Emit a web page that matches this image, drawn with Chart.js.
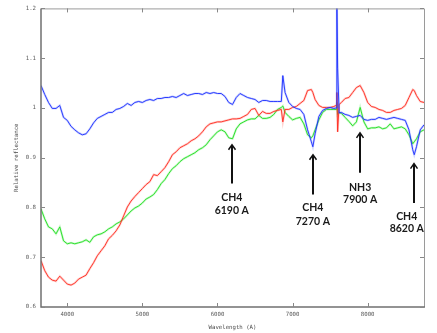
<!DOCTYPE html>
<html>
<head>
<meta charset="utf-8">
<script src="https://cdn.jsdelivr.net/npm/chart.js@4.4.0/dist/chart.umd.min.js"></script>
<style>
  html, body { margin: 0; padding: 0; background: #fff; }
  #wrap { width: 437px; height: 333px; }
</style>
</head>
<body>
<div id="wrap"><canvas id="spectrum" width="437" height="333"></canvas></div>
<script>
// ==========================================
// DATA
// ==========================================

// wavelength grid in Angstrom
const wavelengths = [
  3650, 3700, 3750, 3800, 3850, 3900, 3950, 4000, 4050, 4100,
  4150, 4200, 4250, 4300, 4350, 4400, 4450, 4500, 4550, 4600,
  4650, 4700, 4750, 4800, 4850, 4900, 4950, 5000, 5050, 5100,
  5150, 5200, 5250, 5300, 5350, 5400, 5450, 5500, 5550, 5600,
  5650, 5700, 5750, 5800, 5850, 5900, 5950, 6000, 6050, 6100,
  6150, 6200, 6250, 6300, 6350, 6400, 6450, 6500, 6550, 6600,
  6650, 6700, 6750, 6800, 6850, 6870, 6900, 6950, 7000, 7050,
  7100, 7150, 7200, 7250, 7270, 7300, 7350, 7400, 7450, 7500,
  7550, 7580, 7590, 7600, 7620, 7650, 7700, 7750, 7800, 7850,
  7900, 7950, 8000, 8050, 8100, 8150, 8200, 8250, 8300, 8350,
  8400, 8450, 8500, 8550, 8600, 8620, 8650, 8700, 8750
];

const blueReflectance = [
  1.045, 1.027, 1.011, 0.999, 0.999, 1.005, 0.981, 0.975, 0.963, 0.956,
  0.950, 0.946, 0.948, 0.958, 0.970, 0.979, 0.983, 0.987, 0.991, 0.991,
  0.997, 0.999, 1.003, 1.009, 1.005, 1.011, 1.013, 1.011, 1.015, 1.017,
  1.015, 1.019, 1.019, 1.021, 1.021, 1.023, 1.021, 1.025, 1.029, 1.025,
  1.027, 1.029, 1.029, 1.027, 1.031, 1.029, 1.031, 1.029, 1.029, 1.023,
  1.011, 1.007, 1.021, 1.029, 1.025, 1.021, 1.019, 1.017, 1.011, 1.015,
  1.015, 1.013, 1.013, 1.013, 1.013, 1.065, 1.031, 1.011, 1.003, 0.999,
  0.997, 0.987, 0.956, 0.932, 0.922, 0.948, 0.983, 0.995, 0.999, 1.001,
  0.999, 1.000, 1.210, 1.080, 0.990, 0.991, 0.987, 0.985, 0.981, 0.983,
  0.985, 0.977, 0.975, 0.977, 0.977, 0.981, 0.979, 0.977, 0.979, 0.981,
  0.979, 0.977, 0.975, 0.956, 0.916, 0.906, 0.922, 0.956, 0.966
];

const redReflectance = [
  0.693, 0.673, 0.660, 0.654, 0.652, 0.662, 0.654, 0.646, 0.644, 0.648,
  0.656, 0.660, 0.664, 0.677, 0.689, 0.703, 0.713, 0.723, 0.737, 0.744,
  0.753, 0.765, 0.783, 0.801, 0.813, 0.822, 0.830, 0.838, 0.846, 0.852,
  0.866, 0.864, 0.872, 0.880, 0.892, 0.906, 0.912, 0.920, 0.924, 0.928,
  0.934, 0.938, 0.944, 0.952, 0.962, 0.968, 0.970, 0.972, 0.972, 0.974,
  0.976, 0.978, 0.978, 0.979, 0.983, 0.987, 0.997, 0.999, 0.985, 0.993,
  0.989, 0.989, 0.993, 0.995, 0.997, 0.972, 0.997, 0.997, 1.001, 1.003,
  1.009, 1.015, 1.035, 1.037, 1.031, 1.017, 1.005, 1.001, 1.001, 1.001,
  1.003, 1.005, 1.031, 0.952, 1.007, 1.011, 1.019, 1.021, 1.031, 1.041,
  1.045, 1.031, 1.011, 1.003, 1.001, 0.997, 0.995, 0.991, 0.991, 0.995,
  0.997, 0.999, 1.005, 1.021, 1.037, 1.035, 1.025, 1.013, 1.011
];

const greenReflectance = [
  0.797, 0.777, 0.761, 0.757, 0.747, 0.761, 0.733, 0.727, 0.729, 0.727,
  0.729, 0.731, 0.735, 0.730, 0.741, 0.745, 0.747, 0.751, 0.757, 0.761,
  0.767, 0.771, 0.777, 0.785, 0.793, 0.799, 0.803, 0.809, 0.817, 0.821,
  0.826, 0.836, 0.848, 0.856, 0.868, 0.878, 0.884, 0.892, 0.898, 0.902,
  0.906, 0.910, 0.916, 0.920, 0.926, 0.936, 0.944, 0.952, 0.956, 0.952,
  0.940, 0.938, 0.958, 0.968, 0.972, 0.976, 0.978, 0.978, 0.985, 0.979,
  0.979, 0.981, 0.987, 0.997, 1.001, 1.004, 0.991, 0.983, 0.976, 0.979,
  0.981, 0.968, 0.946, 0.940, 0.944, 0.956, 0.976, 0.991, 0.997, 0.997,
  0.997, 0.997, 1.011, 0.987, 0.991, 0.989, 0.981, 0.973, 0.964, 0.972,
  1.001, 0.972, 0.958, 0.960, 0.960, 0.962, 0.958, 0.960, 0.968, 0.958,
  0.960, 0.962, 0.958, 0.946, 0.928, 0.932, 0.938, 0.952, 0.956
];

// axis ticks
const xTicks = [4000, 5000, 6000, 7000, 8000];
const yTicks = [0.6, 0.7, 0.8, 0.9, 1.0, 1.1, 1.2];

// absorption band markers
const bandNames = ['CH4', 'CH4', 'NH3', 'CH4'];
const bandLabels = ['6190 A', '7270 A', '7900 A', '8620 A'];
const bandWavelengths = [6190, 7270, 7900, 8620];

// ==========================================
// LAYOUT / STYLE (kept apart from the data)
// ==========================================

const TICK_FONT = { family: "'DejaVu Sans Mono', monospace", size: 5.7 };
const BAND_FONT = "bold 10.5px Lato, 'Open Sans', sans-serif";

// arrow tip, arrow tail, first label line, second label line (value units), label x shift
const bandLayout = [
  { tip: 0.926, tail: 0.848, l1: 0.819, l2: 0.793, dx: 0 },
  { tip: 0.906, tail: 0.826, l1: 0.799, l2: 0.771, dx: 0 },
  { tip: 0.950, tail: 0.870, l1: 0.840, l2: 0.815, dx: 0 },
  { tip: 0.888, tail: 0.809, l1: 0.781, l2: 0.757, dx: -100 }
];

function toPoints(values) {
  return wavelengths.map((w, i) => ({ x: w, y: values[i] }));
}

function spectrumDataset(label, values, color, width, order) {
  return {
    label: label,
    data: toPoints(values),
    borderColor: color,
    borderWidth: width,
    pointRadius: 0,
    tension: 0,
    fill: false,
    order: order
  };
}

// ==========================================
// PLUGINS
// ==========================================

// box frame with inward tick marks on all four sides
const framePlugin = {
  id: 'frame',
  afterDatasetsDraw(chart) {
    const { ctx, chartArea: a, scales: { x, y } } = chart;
    ctx.save();
    ctx.lineWidth = 1;
    ctx.strokeStyle = '#9a9a9a';
    ctx.beginPath();
    ctx.moveTo(a.left, a.top + 0.5);
    ctx.lineTo(a.right + 0.5, a.top + 0.5);
    ctx.lineTo(a.right + 0.5, a.bottom);
    ctx.stroke();

    ctx.strokeStyle = '#707070';
    ctx.lineWidth = 1.5;
    ctx.beginPath();
    ctx.moveTo(a.left, a.top);
    ctx.lineTo(a.left, a.bottom);
    ctx.lineTo(a.right + 1, a.bottom);
    ctx.stroke();

    ctx.lineWidth = 1;
    ctx.strokeStyle = '#888';
    ctx.beginPath();
    xTicks.forEach(v => {
      const px = Math.round(x.getPixelForValue(v)) + 0.5;
      ctx.moveTo(px, a.bottom); ctx.lineTo(px, a.bottom - 4);
      ctx.moveTo(px, a.top); ctx.lineTo(px, a.top + 4);
    });
    yTicks.forEach(v => {
      const py = Math.round(y.getPixelForValue(v)) + 0.5;
      ctx.moveTo(a.left, py); ctx.lineTo(a.left + 4, py);
      ctx.moveTo(a.right, py); ctx.lineTo(a.right - 4, py);
    });
    ctx.stroke();
    ctx.restore();
  }
};

// arrows and labels for the absorption bands
const bandPlugin = {
  id: 'bands',
  afterDraw(chart) {
    const { ctx, scales: { x, y } } = chart;
    ctx.save();
    ctx.strokeStyle = '#111';
    ctx.fillStyle = '#1a1a1a';
    ctx.font = BAND_FONT;
    ctx.textAlign = 'center';
    ctx.textBaseline = 'middle';
    bandWavelengths.forEach((w, i) => {
      const b = bandLayout[i];
      const px = Math.round(x.getPixelForValue(w));
      const top = y.getPixelForValue(b.tip);
      const bottom = y.getPixelForValue(b.tail);
      ctx.lineWidth = 2;
      ctx.beginPath();
      ctx.moveTo(px, bottom);
      ctx.lineTo(px, top + 1);
      ctx.stroke();
      ctx.lineWidth = 1.5;
      ctx.beginPath();
      ctx.moveTo(px - 3.5, top + 5);
      ctx.lineTo(px, top);
      ctx.lineTo(px + 3.5, top + 5);
      ctx.stroke();
      const lx = x.getPixelForValue(w + b.dx);
      ctx.fillText(bandNames[i], lx, y.getPixelForValue(b.l1));
      ctx.fillText(bandLabels[i], lx, y.getPixelForValue(b.l2));
    });
    ctx.restore();
  }
};

// ==========================================
// CHART
// ==========================================

const ctx = document.getElementById('spectrum').getContext('2d');

new Chart(ctx, {
  type: 'line',
  data: {
    datasets: [
      spectrumDataset('blue', blueReflectance, '#1a2cff', 0.9, 1),
      spectrumDataset('blue halo', blueReflectance, 'rgba(80,100,255,0.28)', 2.2, 2),
      spectrumDataset('red', redReflectance, '#ff2a1f', 0.9, 3),
      spectrumDataset('red halo', redReflectance, 'rgba(255,90,80,0.28)', 2.2, 4),
      spectrumDataset('green', greenReflectance, '#1fdc1f', 0.9, 5),
      spectrumDataset('green halo', greenReflectance, 'rgba(70,235,70,0.28)', 2.2, 6)
    ]
  },
  options: {
    responsive: false,
    devicePixelRatio: 1,
    animation: false,
    layout: { padding: { left: 0, right: 13, top: 5, bottom: 0 } },
    plugins: {
      legend: { display: false },
      tooltip: { enabled: false }
    },
    scales: {
      x: {
        type: 'linear',
        min: 3650,
        max: 8750,
        grid: { display: false, drawTicks: false },
        border: { display: false },
        afterBuildTicks: s => { s.ticks = xTicks.map(v => ({ value: v })); },
        afterFit: s => { s.height = 26; },
        ticks: {
          font: TICK_FONT,
          color: '#5a5a5a',
          padding: 4,
          maxRotation: 0,
          callback: v => String(v)
        },
        title: {
          display: true,
          text: 'Wavelength (A)',
          font: TICK_FONT,
          color: '#4a4a4a',
          padding: { top: 0, bottom: 2 }
        }
      },
      y: {
        min: 0.6,
        max: 1.2,
        grid: { display: false, drawTicks: false },
        border: { display: false },
        afterBuildTicks: s => { s.ticks = yTicks.map(v => ({ value: v })); },
        afterFit: s => { s.width = 41; },
        ticks: {
          font: TICK_FONT,
          color: '#5a5a5a',
          padding: 5,
          callback: v => String(+v.toFixed(1))
        },
        title: {
          display: true,
          text: 'Relative reflectance',
          font: TICK_FONT,
          color: '#4a4a4a',
          padding: { top: 13, bottom: 0 }
        }
      }
    }
  },
  plugins: [framePlugin, bandPlugin]
});
</script>
</body>
</html>
